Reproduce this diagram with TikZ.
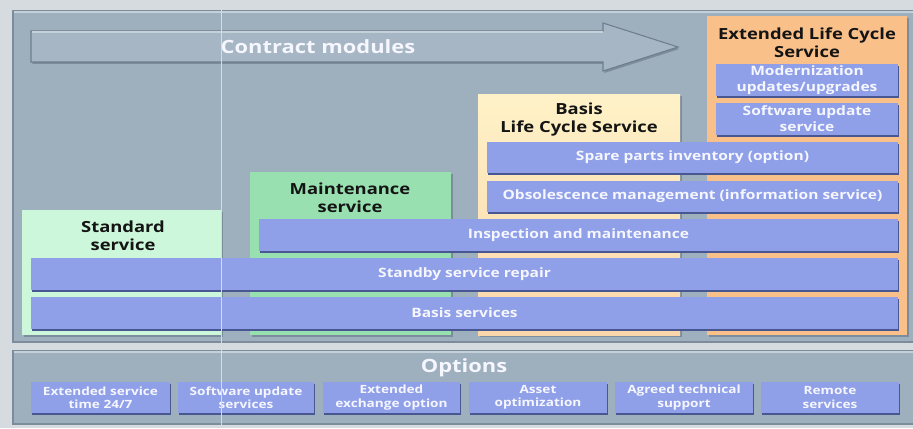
\documentclass[tikz,border=0pt]{standalone}
\usepackage{fontspec}
\setmainfont{Open Sans}[FakeStretch=1.2]
\usetikzlibrary{fit,shadows}
\definecolor{outerbg}{RGB}{214,219,224}
\definecolor{panel}{RGB}{158,175,190}
\definecolor{panelline}{RGB}{125,140,155}
\definecolor{panellight}{RGB}{196,208,218}
\definecolor{arrowfill}{RGB}{166,182,197}
\definecolor{arrowedge}{RGB}{110,126,142}
\definecolor{barblue}{RGB}{143,160,232}
\definecolor{bardark}{RGB}{72,86,146}
\definecolor{barlight}{RGB}{176,190,245}
\definecolor{stdgreen}{RGB}{204,247,218}
\definecolor{mntgreen}{RGB}{153,224,176}
\definecolor{basisyellow}{RGB}{255,242,200}
\definecolor{basispeach}{RGB}{250,214,170}
\definecolor{extorange}{RGB}{249,192,138}
\definecolor{shadecol}{RGB}{112,126,140}
\definecolor{txtdark}{RGB}{20,20,20}
\definecolor{txtlight}{RGB}{246,246,255}
\definecolor{seplinecol}{RGB}{215,220,225}
\begin{document}
\begin{tikzpicture}[x=0.75pt,y=-0.75pt,
  panelbox/.style={fill=panel, draw=panelline, line width=0.9pt, inner sep=0pt},
  modbox/.style={inner sep=0pt, drop shadow={shadow xshift=1.2pt, shadow yshift=-1.2pt, fill=shadecol, opacity=0.7}},
  bar/.style={fill=barblue, inner sep=0pt, drop shadow={shadow xshift=0.8pt, shadow yshift=-1.4pt, fill=bardark, opacity=1}},
  bartxt/.style={text=txtlight, font=\bfseries\fontsize{9.7}{12}\selectfont, align=center, inner sep=0pt},
  opttxt/.style={bartxt, font=\bfseries\fontsize{8.5}{10}\selectfont},
  hdr/.style={text=txtdark, font=\bfseries\fontsize{11.5}{13.5}\selectfont, align=center, inner sep=0pt},
  titletxt/.style={text=txtlight, font=\bfseries\fontsize{13.7}{16}\selectfont, inner sep=0pt},
  sepline/.style={draw=seplinecol, line width=0.9pt},
]
\useasboundingbox (0,0) rectangle (913,428);
\fill[outerbg] (0,0) rectangle (913,428);

% panels
\node[panelbox, fit={(13,11) (914,342)}] (main) {};
\draw[panellight, line width=1.2pt] (14,12) -- (913,12);
\node[panelbox, fit={(13,351) (914,424)}] (optpanel) {};
\draw[panellight, line width=1.2pt] (14,352) -- (913,352);

% contract modules arrow
\fill[shadecol, opacity=0.7, xshift=1pt, yshift=-1.5pt] (31,31) -- (603,31) -- (603,23) -- (678,47) -- (603,71) -- (603,62) -- (31,62) -- cycle;
\draw[fill=arrowfill, draw=arrowedge, line width=0.8pt] (31,31) -- (603,31) -- (603,23) -- (678,47) -- (603,71) -- (603,62) -- (31,62) -- cycle;
\draw[panellight, line width=1pt] (32,32) -- (603,32);
\node[titletxt] (cm) at (318,47) {Contract modules};

% module boxes
\node[modbox, fill=stdgreen, fit={(22,210) (221,335)}] (std) {};
\node[modbox, fill=mntgreen, fit={(250,172) (451,335)}] (mnt) {};
\node[modbox, top color=basisyellow, bottom color=basispeach, fit={(478,94) (680,335)}] (bas) {};
\node[modbox, fill=extorange, fit={(707,16) (907,335)}] (ext) {};

\node[hdr] (stdT) at (123,236) {Standard\\service};
\node[hdr] (mntT) at (350,198) {Maintenance\\service};
\node[hdr] (basT) at (579,120) {Basis\\Life Cycle Service};
\node[hdr] (extT) at (807,43) {Extended Life Cycle\\Service};

% service bars
\node[bar, fit={(716,64) (898,96)}] (modern) {};
\node[bartxt] (modernT) at (modern.center) {Modernization\\updates/upgrades};
\node[bar, fit={(716,103) (898,135)}] (swu) {};
\node[bartxt] (swuT) at (swu.center) {Software update\\service};
\node[bar, fit={(487,142) (898,173)}] (spare) {};
\node[bartxt] (spareT) at (spare.center) {Spare parts inventory (option)};
\node[bar, fit={(487,181) (898,212)}] (obs) {};
\node[bartxt] (obsT) at (obs.center) {Obsolescence management (information service)};
\node[bar, fit={(259,219) (898,251)}] (insp) {};
\node[bartxt] (inspT) at (insp.center) {Inspection and maintenance};
\node[bar, fit={(31,258) (898,290)}] (stby) {};
\node[bartxt] (stbyT) at (stby.center) {Standby service repair};
\node[bar, fit={(31,297) (898,329)}] (basis) {};
\node[bartxt] (basisT) at (basis.center) {Basis services};

% options
\node[titletxt] (optT) at (464,368) {Options};
\node[bar, fit={(31,382) (170,413)}] (o1) {};
\node[opttxt] (o1T) at (o1.center) {Extended service\\time 24/7};
\node[bar, fit={(178,382) (314,413)}] (o2) {};
\node[opttxt] (o2T) at (o2.center) {Software update\\services};
\node[bar, fit={(323,382) (460,413)}] (o3) {};
\node[opttxt] (o3T) at (o3.center) {Extended\\exchange option};
\node[bar, fit={(469,382) (607,413)}] (o4) {};
\node[opttxt] (o4T) at (o4.center) {Asset\\optimization};
\node[bar, fit={(615,382) (753,413)}] (o5) {};
\node[opttxt] (o5T) at (o5.center) {Agreed technical\\support};
\node[bar, fit={(761,382) (899,413)}] (o6) {};
\node[opttxt] (o6T) at (o6.center) {Remote\\services};

% thin vertical line
\draw[sepline] (221.5,4) -- (221.5,428);
\end{tikzpicture}
\end{document}
